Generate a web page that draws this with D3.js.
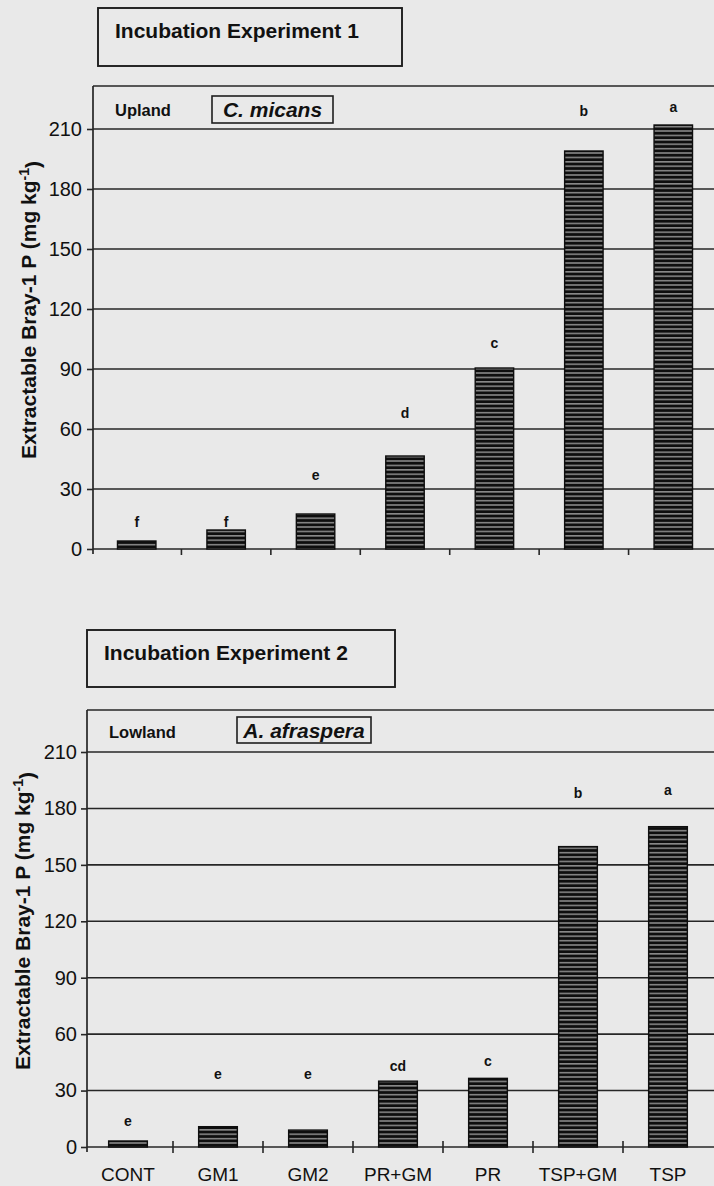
<!DOCTYPE html>
<html>
<head>
<meta charset="utf-8">
<script src="https://cdn.jsdelivr.net/npm/d3@7"></script>
<style>
  html, body { margin: 0; padding: 0; background: #e9e9e9; }
  svg { display: block; font-family: "Liberation Sans", Arial, sans-serif; }
</style>
</head>
<body>
<div id="chart"></div>
<script>

// treatments (same order in both experiments)
var categories = ["CONT", "GM1", "GM2", "PR+GM", "PR", "TSP+GM", "TSP"];

// Experiment 1 - upland, C. micans
var uplandValues = [4, 9.5, 17.5, 46.5, 90.5, 199, 212];
var uplandLetters = ["f", "f", "e", "d", "c", "b", "a"];
var uplandLetterAt = [13.5, 13.5, 37, 68, 103, 219, 221];

// Experiment 2 - lowland, A. afraspera
var lowlandValues = [3.2, 10.8, 9, 35, 36.5, 159.7, 170.3];
var lowlandLetters = ["e", "e", "e", "cd", "c", "b", "a"];
var lowlandLetterAt = [14, 39, 39, 43, 45.5, 188, 190];

var yTicks = [0, 30, 60, 90, 120, 150, 180, 210];

var W = 714, H = 1186;
var ink = "#111";

var svg = d3.select("#chart")
    .append("svg")
    .attr("width", W)
    .attr("height", H);

// horizontal stripe fill of the bars
var pat = svg.append("defs").append("pattern")
    .attr("id", "stripes")
    .attr("patternUnits", "userSpaceOnUse")
    .attr("width", 10)
    .attr("height", 4.4);
pat.append("rect").attr("width", 10).attr("height", 4.4).attr("fill", "#0e0e0e");
pat.append("rect").attr("y", 2.9).attr("width", 10).attr("height", 1.1).attr("fill", "#bdbdbd");


function drawPanel(p) {

    var g = svg.append("g");

    var x = d3.scaleBand()
        .domain(categories)
        .range(p.xRange)
        .paddingInner(0.57)
        .paddingOuter(0.285);

    var y = d3.scaleLinear()
        .domain([0, 210])
        .range([p.zeroY, p.topTickY]);

    // gridlines
    g.selectAll(".grid")
        .data(yTicks)
        .enter().append("line")
        .attr("x1", p.left)
        .attr("x2", W + 5)
        .attr("y1", d => y(d))
        .attr("y2", d => y(d))
        .attr("stroke", "#262626")
        .attr("stroke-width", 1.6);

    // y axis ticks + labels
    var yAxis = d3.axisLeft(y)
        .tickValues(yTicks)
        .tickSize(6)
        .tickPadding(p.left - 6 - p.labelRight);

    var ya = g.append("g")
        .attr("transform", `translate(${p.left}, 0)`)
        .call(yAxis);
    ya.select(".domain").remove();
    ya.selectAll("line").attr("stroke", "#262626").attr("stroke-width", 1.6);
    ya.selectAll("text")
        .attr("fill", ink)
        .style("font-size", "20px")
        .style("font-family", "'Liberation Sans', Arial, sans-serif");

    // plot frame (top + left)
    g.append("line")
        .attr("x1", p.left).attr("x2", W + 5)
        .attr("y1", p.top).attr("y2", p.top)
        .attr("stroke", "#262626").attr("stroke-width", 1.7);
    g.append("line")
        .attr("x1", p.left).attr("x2", p.left)
        .attr("y1", p.top).attr("y2", p.zeroY + 5)
        .attr("stroke", "#262626").attr("stroke-width", 1.7);

    // category separators on the x axis
    var gap = (x.step() - x.bandwidth()) / 2;
    g.selectAll(".sep")
        .data(categories.slice(1))
        .enter().append("line")
        .attr("x1", d => x(d) - gap)
        .attr("x2", d => x(d) - gap)
        .attr("y1", p.zeroY - p.tickUp)
        .attr("y2", p.zeroY + 6)
        .attr("stroke", "#262626")
        .attr("stroke-width", 1.6);

    // category labels (only under the lower panel)
    if (p.showLabels) {
        var xa = g.append("g")
            .attr("transform", `translate(0, ${p.zeroY})`)
            .call(d3.axisBottom(x).tickSize(0).tickPadding(21));
        xa.select(".domain").remove();
        xa.selectAll("text")
            .attr("fill", ink)
            .style("font-size", "19px")
            .style("font-family", "'Liberation Sans', Arial, sans-serif");
    }

    // bars
    g.selectAll(".bar")
        .data(p.values)
        .enter().append("rect")
        .attr("x", (d, i) => x(categories[i]))
        .attr("y", d => y(d))
        .attr("width", x.bandwidth())
        .attr("height", d => p.zeroY - y(d))
        .attr("fill", "url(#stripes)")
        .attr("stroke", "#0e0e0e")
        .attr("stroke-width", 1.4);

    // significance letters
    g.selectAll(".letter")
        .data(p.letters)
        .enter().append("text")
        .attr("x", (d, i) => x(categories[i]) + x.bandwidth() / 2)
        .attr("y", (d, i) => y(p.letterAt[i]))
        .attr("dy", "0.35em")
        .attr("text-anchor", "middle")
        .attr("fill", ink)
        .style("font-size", "14px")
        .style("font-weight", "bold")
        .text(d => d);

    // experiment title box
    g.append("rect")
        .attr("x", p.titleBox[0]).attr("y", p.titleBox[1])
        .attr("width", p.titleBox[2]).attr("height", p.titleBox[3])
        .attr("fill", "none").attr("stroke", "#1e1e1e").attr("stroke-width", 1.9);
    g.append("text")
        .attr("x", p.titleBox[0] + 17)
        .attr("y", p.titleBox[1] + 30)
        .attr("fill", ink)
        .style("font-size", "21px")
        .style("font-weight", "bold")
        .text(p.title);

    // site + species
    g.append("text")
        .attr("x", p.siteXY[0]).attr("y", p.siteXY[1])
        .attr("fill", ink)
        .style("font-size", "16.5px")
        .style("font-weight", "bold")
        .text(p.site);
    g.append("rect")
        .attr("x", p.speciesBox[0]).attr("y", p.speciesBox[1])
        .attr("width", p.speciesBox[2]).attr("height", p.speciesBox[3])
        .attr("fill", "none").attr("stroke", "#1e1e1e").attr("stroke-width", 1.6);
    g.append("text")
        .attr("x", p.speciesBox[0] + p.speciesBox[2] / 2)
        .attr("y", p.speciesBox[1] + 21)
        .attr("text-anchor", "middle")
        .attr("fill", ink)
        .style("font-size", "21px")
        .style("font-weight", "bold")
        .style("font-style", "italic")
        .text(p.species);

    // y axis title
    var yt = g.append("text")
        .attr("transform", `translate(${p.yTitleX}, ${p.yTitleY}) rotate(-90)`)
        .attr("text-anchor", "middle")
        .attr("fill", ink)
        .style("font-size", "21px")
        .style("font-weight", "bold");
    yt.append("tspan").text("Extractable Bray-1 P (mg kg");
    yt.append("tspan").attr("dy", "-0.5em").style("font-size", "14px").text("-1");
    yt.append("tspan").attr("dy", "0.5em").text(")");
}


drawPanel({
    left: 93, top: 86, zeroY: 549, topTickY: 129,
    xRange: [92, 718], labelRight: 82, tickUp: 0,
    values: uplandValues, letters: uplandLetters, letterAt: uplandLetterAt,
    title: "Incubation Experiment 1", titleBox: [98, 8, 304, 58],
    site: "Upland", siteXY: [115, 116],
    species: "C. micans", speciesBox: [212, 96, 121, 27],
    yTitleX: 36, yTitleY: 310, showLabels: false
});

drawPanel({
    left: 87, top: 710, zeroY: 1147, topTickY: 752,
    xRange: [83, 713], labelRight: 77, tickUp: 6,
    values: lowlandValues, letters: lowlandLetters, letterAt: lowlandLetterAt,
    title: "Incubation Experiment 2", titleBox: [87, 630, 308, 57],
    site: "Lowland", siteXY: [109, 738],
    species: "A. afraspera", speciesBox: [237, 717, 134, 26],
    yTitleX: 30, yTitleY: 921, showLabels: true
});

</script>
</body>
</html>
